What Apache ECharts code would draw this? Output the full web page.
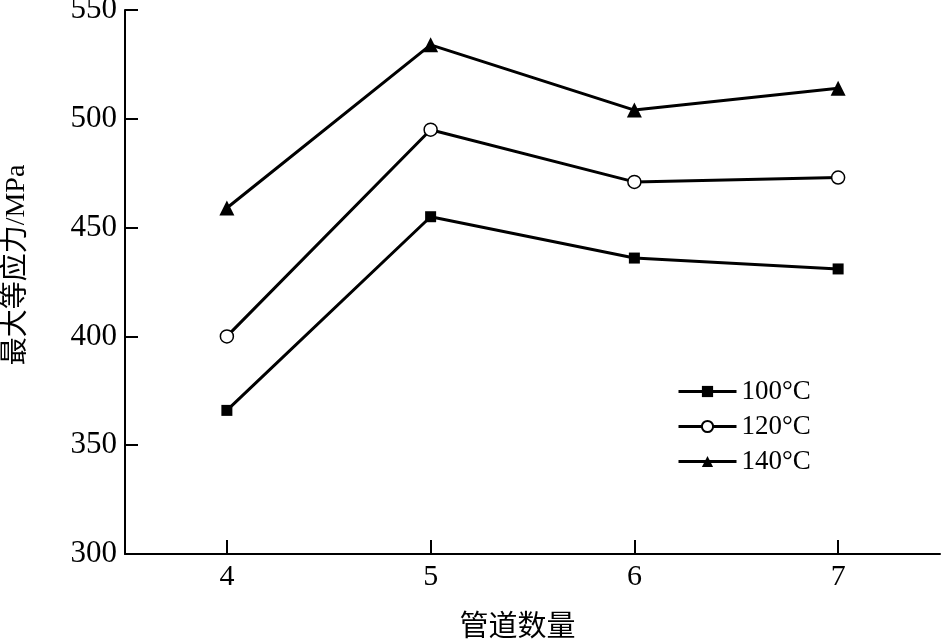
<!DOCTYPE html>
<html>
<head>
<meta charset="utf-8">
<script src="https://cdn.jsdelivr.net/npm/echarts@6/dist/echarts.min.js"></script>
<style>
html,body{margin:0;padding:0;background:#fff;}
#main{width:942px;height:642px;}
</style>
</head>
<body>
<div id="main"></div>
<script>
const categories = ['4', '5', '6', '7'];
const s100 = [366, 455, 436, 431];
const s120 = [400, 495, 471, 473];
const s140 = [459, 534, 504, 514];
const seriesNames = ['100°C', '120°C', '140°C'];
const yTicks = { min: 300, max: 550, interval: 50 };

const font = '"Liberation Serif", "Times New Roman", serif';
const cjk = '"Liberation Serif", "Noto Sans CJK SC", serif';

const chart = echarts.init(document.getElementById('main'), null, { renderer: 'canvas' });

function mkSeries(name, data, symbol, size, fill) {
  return {
    name: name,
    type: 'line',
    data: data,
    symbol: symbol,
    symbolSize: size,
    showAllSymbol: true,
    lineStyle: { color: '#000', width: 3 },
    itemStyle: { color: fill, borderColor: '#000', borderWidth: fill === '#fff' ? 1.5 : 0 },
    emphasis: { disabled: true },
    animation: false
  };
}

chart.setOption({
  animation: false,
  backgroundColor: '#fff',
  grid: { left: 125, right: 2, top: 10, bottom: 88, containLabel: false, outerBoundsMode: 'none' },
  legend: {
    orient: 'vertical',
    left: 672,
    top: 373,
    itemWidth: 58,
    itemHeight: 14,
    itemGap: 8,
    lineStyle: { width: 3, color: '#000' },
    textStyle: { fontFamily: font, fontSize: 27, color: '#000' },
    data: seriesNames
  },
  xAxis: {
    type: 'category',
    data: categories,
    boundaryGap: true,
    axisLine: { lineStyle: { color: '#000', width: 2 } },
    axisTick: { show: true, inside: true, alignWithLabel: true, length: 14, lineStyle: { color: '#000', width: 2 } },
    axisLabel: { color: '#000', fontFamily: font, fontSize: 30, margin: 8 },
    splitLine: { show: false },
    name: '管道数量',
    nameLocation: 'middle',
    nameGap: 60,
    nameTextStyle: { color: '#000', fontFamily: cjk, fontSize: 29, padding: [0, 30, 0, 0] }
  },
  yAxis: {
    type: 'value',
    min: yTicks.min,
    max: yTicks.max,
    interval: yTicks.interval,
    axisLine: { show: true, lineStyle: { color: '#000', width: 2 } },
    axisTick: { show: true, inside: true, length: 13, lineStyle: { color: '#000', width: 2 } },
    axisLabel: { color: '#000', fontFamily: font, fontSize: 31, margin: 8 },
    splitLine: { show: false },
    name: '最大等应力/MPa',
    nameLocation: 'middle',
    nameGap: 94,
    nameRotate: 90,
    nameTextStyle: { color: '#000', fontFamily: cjk, fontSize: 28, padding: [0, 0, 0, 34] }
  },
  series: [
    mkSeries(seriesNames[0], s100, 'rect', 11, '#000'),
    mkSeries(seriesNames[1], s120, 'circle', 13, '#fff'),
    mkSeries(seriesNames[2], s140, 'triangle', 15, '#000')
  ]
});
</script>
</body>
</html>
